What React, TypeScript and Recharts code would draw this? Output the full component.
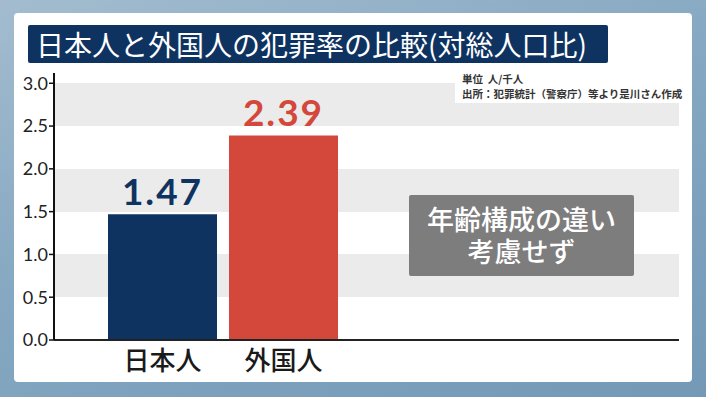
import React from "react"
import { Bar, BarChart, CartesianGrid, Cell, LabelList, XAxis, YAxis } from "recharts"

const groups = ["日本人", "外国人"]
const rates = [1.47, 2.39]
const barColors = ["#0f3361", "#d4473b"]
const yTicks = [0, 0.5, 1.0, 1.5, 2.0, 2.5, 3.0]

const data = groups.map((name, i) => ({ name, rate: rates[i] }))

const jp = '"Noto Sans CJK JP", "Noto Sans", sans-serif'
const num = 'Lato, "Noto Sans", sans-serif'

function ValueLabel(props: any) {
  const { x, y, width, value, index } = props
  return (
    <text
      x={x + width / 2}
      y={y - 9}
      textAnchor="middle"
      fill={barColors[index]}
      fontSize={37}
      fontWeight={700}
      fontFamily={num}
      letterSpacing={2}
    >
      {Number(value).toFixed(2)}
    </text>
  )
}

export default function App() {
  return (
    <div
      style={{
        position: "absolute",
        left: 0,
        top: 0,
        width: 706,
        height: 397,
        overflow: "hidden",
        background: "linear-gradient(160deg, #a3bccf 0%, #86a8c2 45%, #7399b7 100%)",
      }}
    >
      <div
        style={{
          position: "absolute",
          left: 14,
          top: 13,
          width: 678,
          height: 369,
          background: "#fff",
          borderRadius: 4,
        }}
      />
      <div style={{ position: "absolute", left: 0, top: 0 }}>
        <BarChart
          width={706}
          height={397}
          data={data}
          margin={{ top: 73, right: 27, left: 14, bottom: 17 }}
        >
          <CartesianGrid
            vertical={false}
            stroke="none"
            horizontalFill={["transparent", "#ebebeb"]}
          />
          <XAxis
            dataKey="name"
            height={40}
            padding={{ left: 48, right: 335 }}
            tickLine={false}
            axisLine={{ stroke: "#222", strokeWidth: 2 }}
            tickMargin={6}
            tick={{ fontSize: 26, fill: "#1a1a1a", fontFamily: jp, fontWeight: 500 }}
          />
          <YAxis
            width={40}
            domain={[0, 3.12]}
            ticks={yTicks}
            tickFormatter={(v: number) => v.toFixed(1)}
            tickSize={5}
            tickMargin={1}
            axisLine={{ stroke: "#111", strokeWidth: 2 }}
            tickLine={{ stroke: "#111", strokeWidth: 1.5 }}
            tick={{ fontSize: 18, fill: "#222", fontFamily: num }}
          />
          <Bar dataKey="rate" barSize={109} isAnimationActive={false}>
            {data.map((d, i) => (
              <Cell key={d.name} fill={barColors[i]} />
            ))}
            <LabelList dataKey="rate" content={<ValueLabel />} />
          </Bar>
        </BarChart>
      </div>
      <div
        style={{
          position: "absolute",
          left: 28,
          top: 25,
          width: 580,
          height: 38,
          background: "#0f3361",
          borderRadius: 2,
          color: "#fff",
          fontFamily: jp,
          fontSize: 28,
          fontWeight: 400,
          lineHeight: "38px",
          paddingLeft: 8,
          boxSizing: "border-box",
          whiteSpace: "nowrap",
        }}
      >
        日本人と外国人の犯罪率の比較(対総人口比)
      </div>
      <div
        style={{
          position: "absolute",
          left: 455,
          top: 69,
          width: 225,
          height: 34,
          background: "#fff",
          fontFamily: jp,
          fontSize: 10.5,
          fontWeight: 700,
          color: "#333",
          lineHeight: "15px",
          paddingLeft: 7,
          paddingTop: 2,
          boxSizing: "border-box",
          whiteSpace: "nowrap",
        }}
      >
        <div>単位&nbsp;&nbsp;人/千人</div>
        <div>出所：犯罪統計（警察庁）等より是川さん作成</div>
      </div>
      <div
        style={{
          position: "absolute",
          left: 409,
          top: 195,
          width: 225,
          height: 81,
          background: "#7d7d7d",
          borderRadius: 2,
          color: "#fff",
          fontFamily: jp,
          fontSize: 27,
          fontWeight: 500,
          lineHeight: "32px",
          textAlign: "center",
          paddingTop: 8,
          boxSizing: "border-box",
        }}
      >
        <div>年齢構成の違い</div>
        <div>考慮せず</div>
      </div>
    </div>
  )
}
